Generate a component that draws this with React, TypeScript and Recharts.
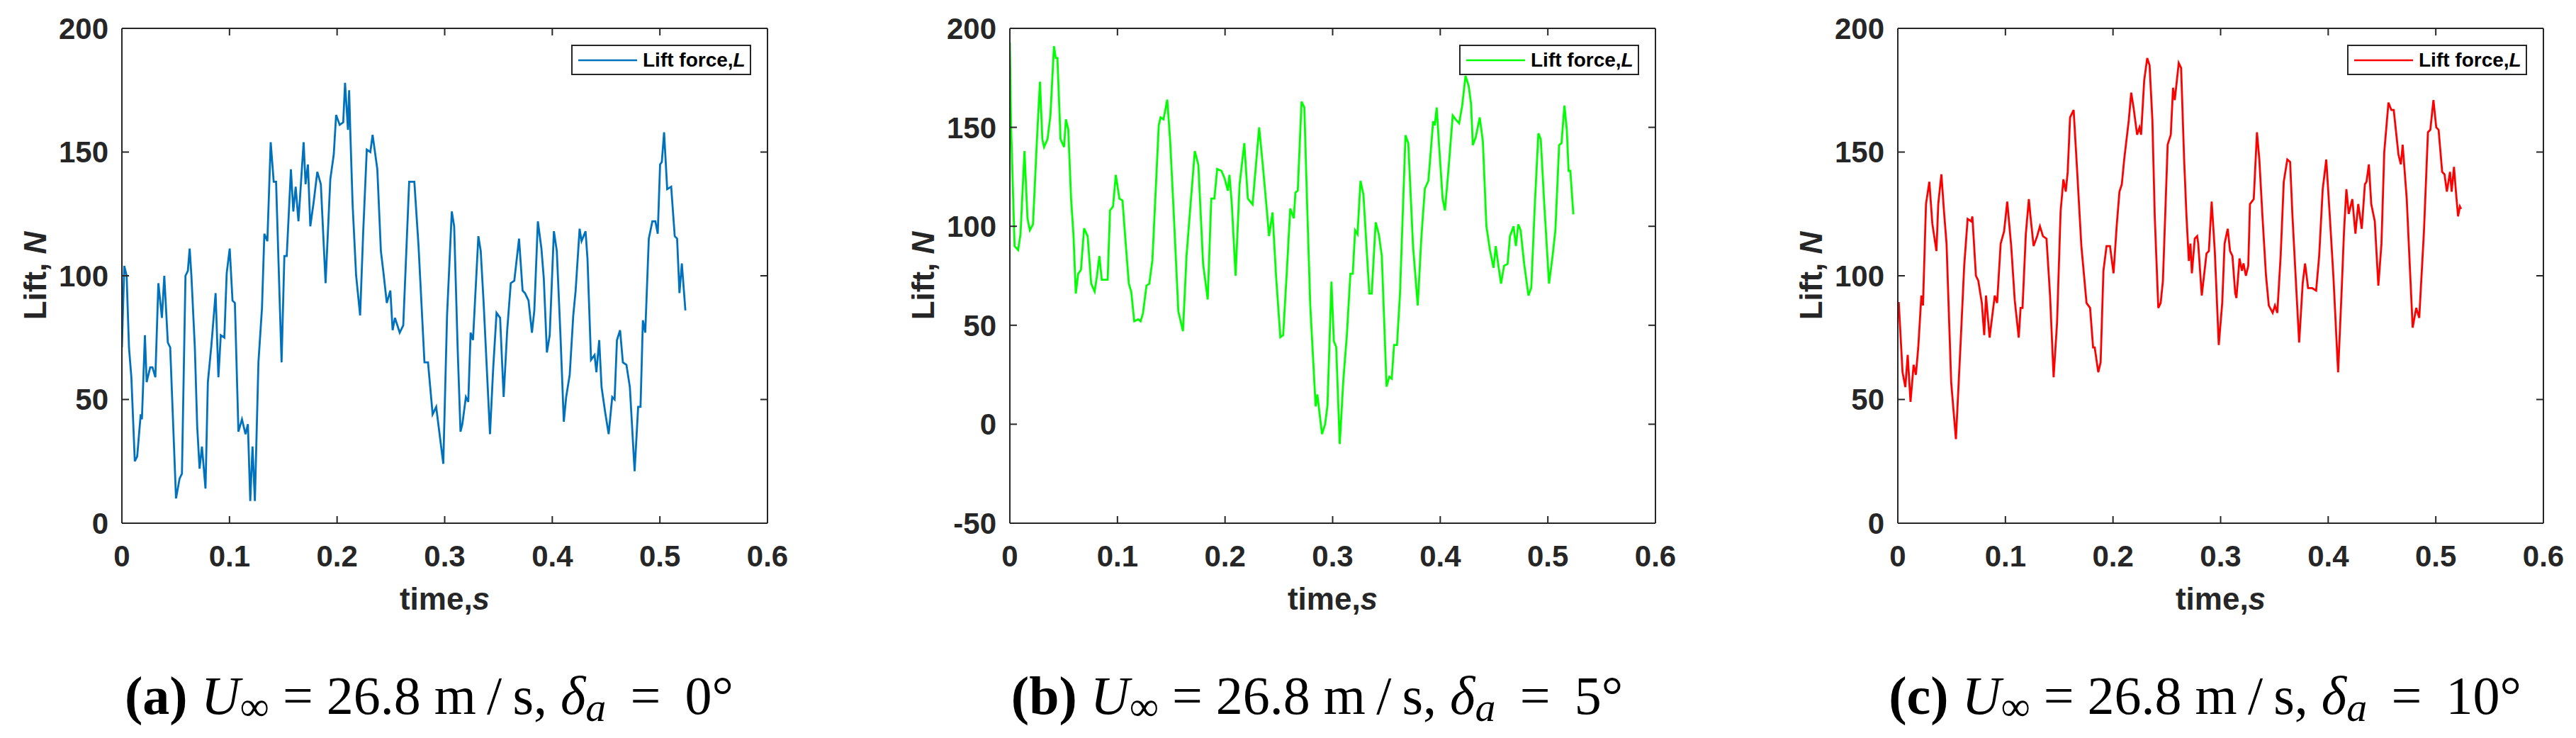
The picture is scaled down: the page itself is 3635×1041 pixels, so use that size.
import React from 'react';
import { LineChart, Line, XAxis, YAxis, Legend } from 'recharts';

// ---------- data ----------
const xTicks = [0, 0.1, 0.2, 0.3, 0.4, 0.5, 0.6];
const yTicksA = [0, 50, 100, 150, 200];
const yTicksB = [-50, 0, 50, 100, 150, 200];
const yTicksC = [0, 50, 100, 150, 200];

const timeA = [0, 0.0022, 0.0044, 0.0066, 0.0088, 0.012, 0.0142, 0.0175, 0.0186, 0.0214, 0.023, 0.0263, 0.0284, 0.0311, 0.0339, 0.0372, 0.0394, 0.0427, 0.0449, 0.0503, 0.0536, 0.0558, 0.0591, 0.0613, 0.063, 0.0646, 0.0678, 0.07, 0.0722, 0.0744, 0.0777, 0.0799, 0.0832, 0.0871, 0.0897, 0.0919, 0.0952, 0.0974, 0.1002, 0.1028, 0.105, 0.1083, 0.1116, 0.1149, 0.1171, 0.1193, 0.1214, 0.1236, 0.1269, 0.1302, 0.1324, 0.1352, 0.1383, 0.1411, 0.1433, 0.1484, 0.151, 0.1532, 0.1571, 0.1593, 0.1615, 0.1641, 0.1689, 0.1707, 0.1729, 0.1751, 0.1783, 0.1816, 0.1849, 0.1893, 0.1937, 0.1969, 0.1991, 0.2024, 0.2057, 0.2074, 0.2101, 0.2112, 0.2123, 0.2144, 0.2177, 0.2214, 0.2243, 0.2276, 0.2309, 0.233, 0.2374, 0.2407, 0.2429, 0.2462, 0.2495, 0.2516, 0.2538, 0.2582, 0.2615, 0.267, 0.2718, 0.2757, 0.2812, 0.2845, 0.2888, 0.2921, 0.2987, 0.3022, 0.3066, 0.3088, 0.3121, 0.3147, 0.3164, 0.3197, 0.3219, 0.3241, 0.3263, 0.3313, 0.3335, 0.3362, 0.3421, 0.345, 0.3482, 0.3515, 0.3548, 0.3581, 0.3614, 0.3647, 0.3691, 0.3724, 0.3746, 0.3779, 0.3811, 0.3833, 0.3866, 0.3899, 0.3921, 0.395, 0.3976, 0.4015, 0.4042, 0.4075, 0.4107, 0.4129, 0.4162, 0.4195, 0.4217, 0.4254, 0.4272, 0.4309, 0.4327, 0.436, 0.4393, 0.441, 0.4436, 0.4458, 0.4491, 0.4524, 0.4557, 0.4579, 0.4601, 0.463, 0.4656, 0.4689, 0.4721, 0.4765, 0.4798, 0.482, 0.4842, 0.4864, 0.4897, 0.493, 0.4958, 0.498, 0.5002, 0.5018, 0.5039, 0.5068, 0.5105, 0.5138, 0.516, 0.5182, 0.5204, 0.5237];
const liftA = [71, 104, 100, 71, 59, 25, 27, 44, 42, 76, 57, 63, 63, 59, 97, 83, 100, 73, 71, 10, 18, 20, 100, 102, 111, 100, 71, 39, 22, 31, 14, 57, 72, 93, 59, 76, 75, 101, 111, 90, 89, 37, 42, 36, 40, 9, 31, 9, 65, 87, 117, 114, 154, 138, 138, 65, 108, 108, 143, 126, 136, 122, 154, 137, 145, 120, 130, 142, 137, 97, 139, 149, 165, 161, 162, 178, 159, 175, 158, 129, 100, 84, 118, 151, 150, 157, 143, 110, 102, 89, 94, 78, 83, 77, 80, 138, 138, 112, 65, 65, 44, 47, 24, 84, 126, 120, 70, 37, 40, 51, 49, 77, 74, 116, 110, 89, 36, 62, 85, 83, 51, 78, 97, 98, 115, 94, 93, 90, 77, 86, 122, 111, 99, 69, 76, 118, 110, 77, 41, 51, 60, 84, 94, 119, 114, 118, 107, 66, 68, 61, 74, 55, 45, 36, 51, 50, 74, 78, 65, 64, 55, 21, 47, 47, 82, 77, 115, 122, 122, 117, 145, 146, 158, 135, 136, 116, 115, 93, 105, 86];

const timeB = [0, 0.0011, 0.0044, 0.0077, 0.0099, 0.0136, 0.0164, 0.0186, 0.0215, 0.0252, 0.028, 0.0302, 0.0318, 0.035, 0.0377, 0.041, 0.0427, 0.0442, 0.0471, 0.0504, 0.0521, 0.0543, 0.0569, 0.0591, 0.0613, 0.0635, 0.0661, 0.069, 0.0723, 0.0756, 0.0788, 0.081, 0.0832, 0.0854, 0.0909, 0.0931, 0.0959, 0.0985, 0.1018, 0.1047, 0.1073, 0.1106, 0.1128, 0.1156, 0.1193, 0.1215, 0.1237, 0.127, 0.1296, 0.1325, 0.1358, 0.1384, 0.1401, 0.1428, 0.1463, 0.1489, 0.1522, 0.1566, 0.1609, 0.1642, 0.1675, 0.1719, 0.1752, 0.1796, 0.1839, 0.1872, 0.1901, 0.1927, 0.1967, 0.1997, 0.2026, 0.2041, 0.2063, 0.2098, 0.2135, 0.2179, 0.2212, 0.2256, 0.2317, 0.2354, 0.2387, 0.2409, 0.2441, 0.2474, 0.2514, 0.254, 0.2573, 0.2606, 0.2639, 0.2654, 0.2676, 0.2711, 0.2737, 0.2764, 0.2792, 0.2842, 0.2858, 0.2901, 0.293, 0.2952, 0.2989, 0.3011, 0.3033, 0.3066, 0.3099, 0.3132, 0.3165, 0.3187, 0.3209, 0.3231, 0.3259, 0.3286, 0.3308, 0.3341, 0.3363, 0.34, 0.3429, 0.3457, 0.3501, 0.3527, 0.3549, 0.3571, 0.3598, 0.3626, 0.3677, 0.3703, 0.3747, 0.3791, 0.3824, 0.3857, 0.389, 0.3934, 0.3949, 0.3967, 0.3989, 0.4022, 0.4044, 0.4077, 0.4116, 0.4143, 0.4176, 0.4204, 0.4235, 0.4264, 0.4286, 0.4303, 0.433, 0.4367, 0.4396, 0.4429, 0.4462, 0.4495, 0.4516, 0.4538, 0.4565, 0.4593, 0.4626, 0.4648, 0.4681, 0.4703, 0.4725, 0.4747, 0.478, 0.482, 0.4846, 0.4879, 0.4912, 0.4934, 0.4967, 0.5011, 0.5044, 0.507, 0.5105, 0.5127, 0.5154, 0.5176, 0.5193, 0.5209, 0.5237];
const liftB = [193, 151, 90, 88, 96, 138, 104, 98, 101, 144, 173, 144, 140, 144, 156, 191, 185, 185, 144, 140, 154, 149, 114, 96, 66, 76, 78, 99, 95, 71, 67, 75, 85, 73, 73, 108, 110, 126, 114, 113, 94, 71, 67, 52, 53, 52, 56, 70, 71, 83, 121, 151, 155, 154, 164, 144, 108, 57, 47, 85, 108, 138, 131, 81, 63, 114, 114, 129, 128, 124, 118, 126, 111, 75, 121, 142, 114, 111, 150, 129, 109, 95, 107, 75, 44, 45, 76, 109, 104, 117, 118, 163, 160, 109, 60, 9, 15, -5, 0, 9.5, 72, 42, 39, -10, 22, 45, 76, 76, 98, 96, 123, 116, 96, 66, 66, 102, 96, 85, 19, 24, 23, 40, 40, 66, 146, 142, 90, 60, 94, 119, 123, 153, 151, 160, 141, 114, 108, 129, 156, 154, 152, 161, 176, 171, 162, 141, 145, 155, 143, 100, 88, 79, 90, 81, 71, 80, 81, 95, 100, 90, 101, 98, 81, 65, 69, 111, 147, 144, 111, 71, 85, 98, 141, 142, 161, 149, 128, 128, 106];

const timeC = [0, 0.0009, 0.0044, 0.007, 0.0092, 0.0118, 0.0147, 0.0168, 0.019, 0.0219, 0.0234, 0.0262, 0.0293, 0.0321, 0.0359, 0.0376, 0.0405, 0.0431, 0.0453, 0.0496, 0.054, 0.0584, 0.0617, 0.0649, 0.0682, 0.0693, 0.0726, 0.0748, 0.0781, 0.0803, 0.082, 0.0853, 0.0901, 0.0923, 0.0956, 0.0988, 0.1017, 0.1054, 0.1087, 0.1124, 0.1141, 0.1159, 0.119, 0.1218, 0.1233, 0.1262, 0.1295, 0.1321, 0.1349, 0.1382, 0.1415, 0.1448, 0.148, 0.1513, 0.1539, 0.1561, 0.1579, 0.1601, 0.1634, 0.1666, 0.1706, 0.1754, 0.1787, 0.1815, 0.183, 0.1863, 0.1885, 0.1911, 0.194, 0.1972, 0.2005, 0.2034, 0.206, 0.2082, 0.2104, 0.2147, 0.2169, 0.2191, 0.2224, 0.2246, 0.2261, 0.229, 0.2318, 0.234, 0.2366, 0.2388, 0.2421, 0.2443, 0.2464, 0.2508, 0.2537, 0.2558, 0.2574, 0.2611, 0.2633, 0.2661, 0.2683, 0.2705, 0.272, 0.2733, 0.276, 0.2782, 0.2792, 0.2825, 0.2869, 0.2891, 0.2917, 0.2946, 0.2983, 0.3015, 0.3037, 0.3066, 0.3088, 0.311, 0.3136, 0.3147, 0.3176, 0.3198, 0.3213, 0.3235, 0.3257, 0.3273, 0.3308, 0.3338, 0.336, 0.3389, 0.3422, 0.3448, 0.3484, 0.3505, 0.3527, 0.3558, 0.3587, 0.362, 0.3646, 0.3668, 0.3697, 0.373, 0.3763, 0.3785, 0.3813, 0.3851, 0.3888, 0.3916, 0.3949, 0.3982, 0.4015, 0.4048, 0.4092, 0.4125, 0.4147, 0.4169, 0.4191, 0.4224, 0.4253, 0.4279, 0.4312, 0.4341, 0.4356, 0.4378, 0.44, 0.4433, 0.4466, 0.4495, 0.4521, 0.456, 0.4587, 0.4609, 0.4653, 0.4675, 0.4692, 0.473, 0.4752, 0.4785, 0.4818, 0.4846, 0.489, 0.4927, 0.4949, 0.4978, 0.5004, 0.5026, 0.5059, 0.5081, 0.5103, 0.5132, 0.5147, 0.5169, 0.5187, 0.5207, 0.5224, 0.5235];
const liftC = [89, 89, 61, 55, 68, 49, 64, 60, 71, 92, 88, 129, 138, 121, 110, 129, 141, 125, 113, 57, 34, 73, 104, 123, 122, 124, 100, 98, 89, 76, 92, 75, 92, 89, 113, 118, 130, 112, 90, 75, 87, 87, 117, 131, 124, 112, 116, 120, 116, 115, 92, 59, 81, 126, 139, 134, 142, 164, 167, 143, 112, 89, 87, 71, 71, 61, 65, 102, 112, 112, 101, 120, 134, 137, 147, 163, 174, 168, 157, 160, 157, 179, 188, 185, 163, 124, 87, 89, 98, 153, 157, 176, 171, 186, 184, 147, 124, 106, 113, 101, 115, 116, 113, 92, 109, 110, 130, 110, 72, 89, 113, 119, 110, 108, 93, 91, 107, 102, 105, 100, 104, 129, 131, 158, 147, 124, 100, 88, 85, 88, 85, 108, 138, 147, 146, 124, 100, 73, 97, 105, 95, 95, 94, 108, 135, 147, 124, 100, 61, 94, 118, 135, 125, 131, 117, 129, 119, 137, 138, 145, 129, 122, 96, 113, 150, 170, 167, 167, 149, 145, 153, 131, 110, 79, 87, 83, 118, 158, 159, 171, 160, 159, 142, 141, 134, 142, 134, 144, 134, 124, 128, 127];

const seriesName = 'Lift force,L';

// ---------- layout / style ----------
const CHART_W = 1140;
const CHART_H = 868;
const RIGHT_MARGIN = 55;
const AXIS_COLOR = '#262626';
const SANS = "'Liberation Sans', Arial, Helvetica, sans-serif";
const SERIF = "'Liberation Serif', 'Times New Roman', serif";

const EmptyTick = () => <g />;

const makeLegend = (color: string) => (props: any) => {
  const entry = (props.payload && props.payload[0]) || { color, value: seriesName };
  const label = String(entry.value || seriesName);
  const main = label.slice(0, label.length - 1);
  const last = label.slice(label.length - 1);
  return (
    <div
      style={{
        boxSizing: 'border-box',
        width: 254,
        height: 43,
        border: `2px solid ${AXIS_COLOR}`,
        background: '#fff',
        display: 'flex',
        alignItems: 'center',
        paddingLeft: 8,
      }}
    >
      <svg width={83} height={6} style={{ display: 'block' }}>
        <line x1={0} y1={3} x2={83} y2={3} stroke={entry.color || color} strokeWidth={2.5} />
      </svg>
      <span
        style={{
          marginLeft: 8,
          fontFamily: SANS,
          fontWeight: 'bold',
          fontSize: 28,
          lineHeight: 1,
          color: '#000',
          whiteSpace: 'nowrap',
        }}
      >
        {main}
        <i>{last}</i>
      </span>
    </div>
  );
};

const XLabel = (props: any) => {
  const vb = props.viewBox || { x: 172, y: 738, width: 911, height: 130 };
  return (
    <text
      x={vb.x + vb.width / 2}
      y={vb.y + 122}
      textAnchor="middle"
      fontFamily={SANS}
      fontWeight="bold"
      fontSize={44}
      fill={AXIS_COLOR}
    >
      time,<tspan fontStyle="italic">s</tspan>
    </text>
  );
};

const YLabel = (props: any) => {
  const vb = props.viewBox || { x: 0, y: 40, width: 172, height: 698 };
  const x = vb.x + 65;
  const y = vb.y + vb.height / 2;
  return (
    <text
      x={x}
      y={y}
      transform={`rotate(-90, ${x}, ${y})`}
      textAnchor="middle"
      fontFamily={SANS}
      fontWeight="bold"
      fontSize={44}
      fill={AXIS_COLOR}
    >
      Lift, <tspan fontStyle="italic">N</tspan>
    </text>
  );
};

type PanelProps = {
  left: number;
  time: number[];
  lift: number[];
  color: string;
  yTicks: number[];
  letter: string;
  angle: string;
};

const Caption = ({ letter, angle }: { letter: string; angle: string }) => {
  const cx = 172 + 911 / 2 - 22;
  return (
    <svg width={CHART_W} height={1041 - CHART_H} style={{ position: 'absolute', left: 0, top: CHART_H }}>
      <text x={cx} y={139} textAnchor="middle" fontFamily={SERIF} fontSize={76} fill="#000">
        <tspan fontWeight="bold">{`(${letter})`}</tspan>
        <tspan>{'\u00A0'}</tspan>
        <tspan fontStyle="italic">U</tspan>
        <tspan fontSize={58} dy={9}>∞</tspan>
        <tspan dy={-9}>{'\u00A0=\u00A026.8\u00A0m\u2009/\u2009s,\u00A0'}</tspan>
        <tspan fontStyle="italic">δ</tspan>
        <tspan fontStyle="italic" fontSize={58} dy={10}>a</tspan>
        <tspan dy={-10}>{`\u00A0\u2009=\u2009\u00A0${angle}°`}</tspan>
      </text>
    </svg>
  );
};

const Panel = ({ left, time, lift, color, yTicks, letter, angle }: PanelProps) => {
  const data = time.map((t, i) => ({ t, lift: lift[i] }));
  const yDomain = [yTicks[0], yTicks[yTicks.length - 1]];
  const axisLine = { stroke: AXIS_COLOR, strokeWidth: 2 };
  const tickLine = { stroke: AXIS_COLOR, strokeWidth: 2 };
  const tickStyle = { fill: AXIS_COLOR, fontSize: 42, fontWeight: 'bold', fontFamily: SANS };
  return (
    <div style={{ position: 'absolute', left, top: 0, width: CHART_W, height: 1041 }}>
      <LineChart
        width={CHART_W}
        height={CHART_H}
        data={data}
        margin={{ top: 38, right: RIGHT_MARGIN, bottom: 0, left: 0 }}
      >
        <XAxis
          xAxisId="bottom"
          dataKey="t"
          type="number"
          domain={[0, 0.6]}
          ticks={xTicks}
          interval={0}
          allowDataOverflow
          orientation="bottom"
          height={130}
          axisLine={axisLine}
          tickLine={tickLine}
          tickSize={-10}
          tickMargin={41}
          tick={tickStyle}
          tickFormatter={(v: number) => String(v)}
          label={XLabel}
        />
        <XAxis
          xAxisId="top"
          dataKey="t"
          type="number"
          domain={[0, 0.6]}
          ticks={xTicks}
          interval={0}
          allowDataOverflow
          orientation="top"
          height={2}
          axisLine={axisLine}
          tickLine={tickLine}
          tickSize={-10}
          tick={EmptyTick}
        />
        <YAxis
          yAxisId="left"
          type="number"
          domain={yDomain}
          ticks={yTicks}
          interval={0}
          allowDataOverflow
          orientation="left"
          width={172}
          axisLine={axisLine}
          tickLine={tickLine}
          tickSize={-10}
          tickMargin={29}
          tick={tickStyle}
          label={YLabel}
        />
        <YAxis
          yAxisId="right"
          type="number"
          domain={yDomain}
          ticks={yTicks}
          interval={0}
          allowDataOverflow
          orientation="right"
          width={2}
          axisLine={axisLine}
          tickLine={tickLine}
          tickSize={-10}
          tick={EmptyTick}
        />
        <Legend
          layout="vertical"
          align="center"
          verticalAlign="middle"
          content={makeLegend(color)}
          wrapperStyle={{ top: 63, right: RIGHT_MARGIN + 25, left: 'auto', width: 254, height: 43 }}
        />
        <Line
          xAxisId="bottom"
          yAxisId="left"
          type="linear"
          dataKey="lift"
          name={seriesName}
          stroke={color}
          strokeWidth={2.8}
          dot={false}
          activeDot={false}
          isAnimationActive={false}
        />
      </LineChart>
      <Caption letter={letter} angle={angle} />
    </div>
  );
};

export default function App() {
  return (
    <div style={{ position: 'absolute', left: 0, top: 0, width: 3635, height: 1041, background: '#fff', overflow: 'hidden' }}>
      <Panel left={0} time={timeA} lift={liftA} color="#0072BD" yTicks={yTicksA} letter="a" angle="0" />
      <Panel left={1253} time={timeB} lift={liftB} color="#00FF00" yTicks={yTicksB} letter="b" angle="5" />
      <Panel left={2506} time={timeC} lift={liftC} color="#FF0000" yTicks={yTicksC} letter="c" angle="10" />
    </div>
  );
}
